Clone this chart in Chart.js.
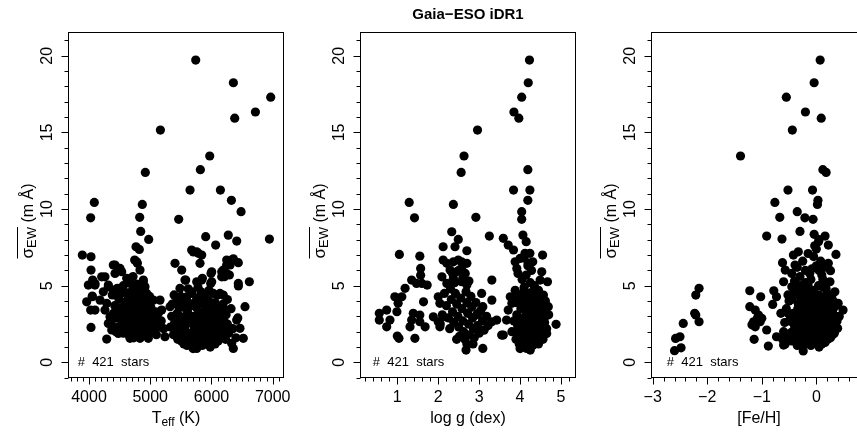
<!DOCTYPE html>
<html><head><meta charset="utf-8">
<script src="https://cdn.jsdelivr.net/npm/chart.js@4.4.1/dist/chart.umd.min.js"></script>
<style>
html,body{margin:0;padding:0;background:#fff;overflow:hidden;width:857px;height:434px;}
canvas{position:absolute;top:0;}
</style></head><body>
<canvas id="c1" width="290" height="434" style="left:0px"></canvas>
<canvas id="c2" width="290" height="434" style="left:292px"></canvas>
<canvas id="c3" width="290" height="434" style="left:583px"></canvas>
<script>
// ---------- data ----------
const yTicks = [0, 5, 10, 15, 20];
const teffTicks = [4000, 5000, 6000, 7000];
const loggTicks = [1, 2, 3, 4, 5];
const fehTicks = [-3, -2, -1, 0];
const nStars = 421;

const teffPts = [
[5743,19.72],[6358,18.24],[6968,17.3],[6718,16.33],[6380,15.93],[5166,15.15],[5972,13.46],[5819,12.57],[4920,12.39],[5650,11.24],[6146,11.24],[4087,10.43],[6326,10.57],[4871,10.3],[6484,9.83],[4027,9.43],[4828,9.46],[5465,9.33],[4844,8.54],[4975,8.02],[5906,8.2],[6275,8.3],[6413,7.91],[6947,8.04],[6069,7.65],[4768,7.54],[4822,7.37],[3891,7.0],[4033,6.89],[5677,7.33],[5705,7.2],[5759,7.21],[5786,7.11],[5841,7.0],[4746,6.67],[4779,6.56],[4790,6.46],[5813,6.46],[5405,6.46],[6249,6.67],[6330,6.67],[6358,6.76],[6439,6.5],[6248,6.35],[6304,6.35],[4397,6.35],[4425,6.35],[4479,6.13],[4507,6.13],[4033,6.02],[5514,6.02],[4833,6.02],[6193,6.02],[5852,5.48],[6004,5.91],[5993,5.8],[6168,5.91],[6167,5.58],[6211,5.59],[6248,5.8],[6293,5.7],[4616,5.48],[4425,5.8],[4534,5.91],[4207,5.58],[4261,5.58],[4060,5.37],[4098,5.15],[5568,5.37],[5580,5.37],[6619,5.26],[4887,5.26],[4888,5.37],[4915,4.93],[4899,4.93],[6439,5.15],[6440,4.98],[3989,5.04],[4098,5.04],[4316,5.04],[4316,4.93],[4463,4.83],[5988,5.15],[6004,5.26],[5759,5.26],[5841,5.37],[5486,4.83],[4670,5.37],
[4054,4.33],[3962,3.95],[4054,4.28],[4027,3.41],[4098,3.41],[4033,2.28],[4289,1.52],[4397,4.72],[4234,4.6],[4180,4.06],[4289,3.85],[4261,3.41],[4343,2.97],[4316,2.54],[4371,2.11],[4479,1.89],[4670,1.57],[4833,1.57],[4969,1.57],[5241,1.67],[4942,4.5],[5051,4.06],[5160,4.06],[5187,3.41],[5132,3.2],[5323,3.63],[5595,4.28],[5677,4.6],[5459,4.06],[6030,4.5],[6139,4.5],[6193,4.39],[6112,3.63],[6221,3.41],[6548,3.63],[6520,1.57],[6357,0.91],[6330,1.24],[6412,2.76],[6466,2.22],[6248,2.32],[5759,0.91],[5677,1.24],[5922,1.34],
[4380,4.4],[4420,3.7],[4450,2.9],[4470,2.3],[4490,4.1],[4510,3.3],[4540,2.6],[4560,1.9],[4580,4.6],[4600,3.9],[4620,3.1],[4640,2.4],[4660,4.3],[4680,3.6],[4700,2.8],[4710,2.1],[4720,4.9],[4740,4.0],[4760,3.3],[4770,2.6],[4790,1.9],[4800,4.5],[4810,3.7],[4830,3.0],[4850,2.3],[4860,4.2],[4880,3.5],[4900,2.7],[4910,2.0],[4930,3.9],[4950,3.2],[4970,2.5],[4990,4.3],[5010,3.6],[5030,2.8],[5060,2.2],[5090,3.3],[5120,2.6],[4550,3.6],[4650,1.8],[4730,1.6],[4870,1.7],[4400,3.2],[4360,2.6],[4440,2.0],[4690,4.6],[4850,4.8],[4780,5.1],[4720,5.6],[4650,5.2],[4560,5.0],
[4390,3.0],[4430,4.4],[4470,3.5],[4500,2.2],[4520,4.5],[4530,3.0],[4570,2.5],[4590,3.4],[4610,2.0],[4630,4.1],[4650,2.9],[4670,3.8],[4690,2.3],[4700,1.7],[4730,3.2],[4750,4.3],[4770,2.2],[4790,3.5],[4820,2.6],[4840,4.0],[4860,1.9],[4870,3.1],[4890,4.6],[4920,2.3],[4940,3.5],[4960,2.9],[4980,1.9],[5000,3.9],[5020,2.4],[5040,3.2],[5070,2.8],[5100,1.8],[5140,2.3],[5180,2.7],[5220,2.2],
[5420,3.9],[5440,3.2],[5460,2.5],[5480,1.9],[5500,4.3],[5520,3.6],[5540,2.9],[5560,2.2],[5580,1.6],[5600,4.0],[5610,3.3],[5630,2.6],[5650,1.9],[5660,1.3],[5680,4.5],[5690,3.7],[5710,3.0],[5720,2.3],[5740,1.6],[5750,1.1],[5760,4.2],[5770,3.5],[5790,2.8],[5800,2.1],[5810,1.4],[5830,4.6],[5840,3.9],[5850,3.2],[5860,2.5],[5870,1.8],[5880,1.2],[5900,4.3],[5910,3.6],[5920,2.9],[5930,2.2],[5940,1.5],[5960,4.0],[5970,3.3],[5980,2.6],[5990,1.9],[6000,1.3],[6020,3.7],[6030,3.0],[6040,2.3],[6050,1.6],[6080,3.4],[6090,2.7],[6100,2.0],[6110,1.4],[6140,3.1],[6150,2.4],[6160,1.7],[6190,3.8],[6200,2.8],[6210,2.1],[6230,1.5],[6260,2.5],[6280,1.9],[5350,3.0],[5330,2.3],[5380,1.8],[5450,1.5],[5550,1.2],[5700,0.9],[5620,4.8],[5780,4.9],[5960,4.7],[6100,4.4],[6260,4.1],[6320,3.5],[6350,2.2],[6400,1.6],[6430,2.9],
[5430,2.2],[5470,3.6],[5510,1.4],[5530,2.1],[5550,3.9],[5570,3.0],[5590,2.5],[5620,3.7],[5640,1.5],[5670,2.8],[5700,2.0],[5730,3.9],[5760,2.6],[5780,1.8],[5790,3.2],[5820,2.4],[5830,1.6],[5850,4.2],[5870,2.9],[5890,2.1],[5920,3.4],[5950,2.5],[5960,1.7],[5990,3.6],[6010,2.7],[6020,1.9],[6060,3.9],[6070,2.5],[6090,1.8],[6120,3.0],[6130,2.1],[6170,2.6],[6180,3.5],[6220,2.4],[6240,3.1],[5600,1.1],[5850,1.1],[5980,1.0],[6060,1.2],[5520,2.6],[5480,3.0],[5400,2.6],[5360,3.8],[5390,4.4]
];

const loggPts = [
[4.23,19.72],[4.2,18.24],[4.04,17.3],[3.85,16.33],[3.97,15.93],[2.96,15.15],[2.63,13.46],[4.19,12.57],[2.56,12.39],[3.84,11.24],[4.24,11.24],[1.29,10.43],[4.19,10.57],[2.37,10.3],[4.04,9.83],[1.42,9.43],[2.92,9.46],[4.04,9.33],[2.33,8.52],[2.49,8.02],[3.25,8.24],[4.07,8.3],[4.15,7.87],[3.59,8.09],[3.71,7.65],[2.12,7.54],[2.41,7.54],[1.05,7.04],[2.7,7.28],[1.55,6.93],[4.55,7.0],[3.84,7.33],[4.0,6.78],[3.88,6.56],[3.92,6.13],[4.12,7.11],[4.24,7.11],[4.31,6.56],[4.2,6.46],[4.53,5.91],[4.67,5.26],[4.49,5.37],
[2.12,6.67],[2.21,6.46],[2.37,6.56],[2.49,6.67],[2.57,6.56],[2.7,6.46],[2.29,6.02],[2.45,5.91],[2.57,6.13],[2.66,5.8],[2.37,5.48],[2.57,5.26],[2.7,5.04],[2.09,5.58],[2.21,5.15],[2.0,4.28],[2.04,3.85],[1.57,6.13],[1.57,5.69],[1.35,5.37],[1.47,5.15],[1.6,5.15],[1.73,5.04],[1.19,4.83],[1.11,4.28],[0.94,4.28],[1.02,3.85],[0.99,3.3],[0.74,3.41],[0.56,3.2],[0.56,2.76],[0.82,2.76],[0.74,2.32],[1.0,1.72],[1.04,1.57],[1.43,1.57],[1.39,3.2],[1.55,3.09],[1.64,3.95],[1.35,2.76],[1.31,2.32],[1.55,2.65],[1.68,2.32],[1.88,2.97],[2.0,2.65],[2.04,2.32],[2.12,2.97],
[3.31,5.37],[3.06,4.5],[3.31,4.06],[3.09,3.63],[2.98,3.2],[3.31,2.65],[3.43,2.76],[3.67,2.76],[3.55,1.78],[2.68,0.8],[3.09,0.91],[3.96,4.39],[3.76,4.28],[3.8,3.85],[3.71,3.41],[3.59,1.78],[4.65,1.89],[4.57,2.76],[4.69,3.63],[4.16,0.91],[4.88,2.48],[4.57,4.39],
[3.88,4.7],[3.90,3.9],[3.92,3.1],[3.94,2.4],[3.96,1.7],[3.98,1.2],[4.00,4.3],[4.02,3.5],[4.04,2.8],[4.06,2.0],[4.08,1.4],[4.10,4.9],[4.12,4.0],[4.14,3.3],[4.16,2.5],[4.18,1.8],[4.20,1.1],[4.22,4.5],[4.24,3.7],[4.26,3.0],[4.28,2.2],[4.30,1.5],[4.32,4.2],[4.34,3.4],[4.36,2.7],[4.38,1.9],[4.40,1.3],[4.42,3.9],[4.44,3.1],[4.46,2.4],[4.48,1.7],[4.50,3.6],[4.52,2.9],[4.54,2.1],[4.56,1.5],[4.58,3.3],[4.60,2.6],[4.62,4.0],[4.05,5.4],[4.15,5.7],[4.25,5.2],[4.35,5.0],[4.45,4.7],[4.55,4.3],[4.19,6.3],[4.28,6.0],[4.1,6.8],[3.95,5.8],[3.85,2.7],[3.8,2.0],[3.9,1.5],[4.0,0.9],[4.25,0.8],[4.45,1.2],[4.65,2.2],[4.7,3.1],[4.12,2.2],[4.22,2.7],[4.32,2.0],[4.08,3.6],[4.18,4.3],[4.38,3.6],[4.5,2.5],
[3.93,4.4],[3.97,2.0],[4.01,1.6],[4.03,3.9],[4.07,2.5],[4.09,4.6],[4.11,1.7],[4.13,3.0],[4.17,3.8],[4.21,2.0],[4.23,4.1],[4.27,1.3],[4.29,3.3],[4.31,2.6],[4.33,4.7],[4.35,1.6],[4.37,3.0],[4.41,2.2],[4.43,4.4],[4.47,3.3],[4.49,2.0],[4.53,3.8],[4.57,2.4],[4.59,1.8],[4.61,3.0],[4.21,1.5],[4.15,1.0],[4.31,1.1],[4.05,1.2],[4.39,4.1],
[2.15,4.5],[2.2,3.7],[2.25,2.9],[2.3,4.8],[2.32,4.1],[2.35,3.3],[2.38,2.6],[2.4,5.2],[2.42,4.5],[2.45,3.8],[2.48,3.0],[2.5,2.3],[2.52,1.7],[2.55,4.2],[2.58,3.5],[2.6,2.7],[2.62,2.0],[2.65,1.5],[2.68,4.6],[2.7,3.9],[2.72,3.2],[2.74,2.5],[2.76,1.8],[2.8,4.3],[2.82,3.6],[2.84,2.9],[2.86,2.2],[2.88,1.6],[2.92,3.9],[2.94,3.1],[2.96,2.4],[3.0,1.9],[3.04,3.4],[3.08,2.7],[3.12,2.1],[3.18,3.0],[3.22,2.4],[2.1,3.1],[2.05,2.5],[2.28,2.2],[2.45,1.5],[2.6,5.5],[2.5,6.0],[2.35,5.8],[2.75,5.3],[2.85,1.2],[2.7,1.2]
];

const fehPts = [
[0.07,19.72],[-0.04,18.24],[-0.55,17.3],[-0.2,16.33],[0.09,15.93],[-0.44,15.15],[-1.39,13.46],[0.12,12.57],[0.18,12.39],[-0.52,11.24],[-0.07,11.24],[-0.76,10.43],[0.03,10.57],[0.02,10.3],[-0.35,9.83],[-0.67,9.46],[-0.21,9.43],[-0.06,9.33],[-0.30,8.54],[-0.91,8.24],[-0.63,8.04],[-0.04,8.35],[0.16,8.24],[0.04,7.87],[0.22,7.65],[0.36,7.04],[-0.33,7.21],[-0.42,7.0],[-0.62,6.5],[-0.57,6.02],[-0.39,6.35],[-0.60,5.26],[-0.45,4.93],[-1.22,4.67],[-1.02,4.28],[-0.78,4.67],[-0.73,4.28],[-0.80,3.78],[-1.22,3.63],[-1.12,3.41],[-1.06,3.09],[-1.0,2.87],[-1.15,2.65],[-1.12,2.32],[-1.03,2.65],[-0.91,2.11],[-1.14,1.5],[-0.88,1.06],[-0.73,1.67],[-0.60,1.13],[-0.24,0.74],[0.39,2.22],[0.49,3.41],[0.40,3.85],[0.34,4.6],[0.25,5.26],[0.26,5.98],[0.22,6.46],[-1.18,2.45],[-1.08,2.9],[-0.03,7.6],[0.05,8.0],
[-2.15,4.83],[-2.21,4.39],[-2.21,3.09],[-2.23,3.2],[-2.15,2.65],[-2.44,2.54],[-2.50,1.67],[-2.58,1.56],[-2.48,0.95],[-2.60,0.76],
[-0.55,3.5],[-0.5,2.7],[-0.48,1.9],[-0.45,4.1],[-0.42,3.2],[-0.4,2.4],[-0.38,1.6],[-0.35,4.6],[-0.33,3.8],[-0.3,2.9],[-0.28,2.1],[-0.26,1.3],[-0.24,4.3],[-0.22,3.5],[-0.2,2.6],[-0.18,1.8],[-0.15,5.0],[-0.13,4.0],[-0.11,3.2],[-0.09,2.3],[-0.07,1.5],[-0.05,4.7],[-0.03,3.8],[-0.01,2.9],[0.01,2.0],[0.03,1.3],[0.05,4.4],[0.07,3.5],[0.09,2.6],[0.11,1.7],[0.13,4.9],[0.15,4.1],[0.17,3.2],[0.19,2.3],[0.21,1.5],[0.23,3.8],[0.25,2.9],[0.27,2.0],[0.3,3.4],[0.32,2.5],[0.35,3.0],[0.28,4.3],[-0.6,2.0],[-0.62,1.5],[-0.57,1.2],[-0.4,5.3],[-0.3,5.6],[-0.2,6.0],[-0.1,5.4],[0.0,6.3],[0.1,5.7],[0.2,5.2],[-0.25,6.6],[-0.05,6.9],[0.08,6.6],[-0.35,6.2],[-0.15,7.1],[-0.45,5.8],[0.15,6.2],[0.0,7.4],[-0.1,1.1],[0.1,1.2],[-0.35,1.1],[-0.65,3.2],[-0.52,4.4],[0.3,1.8],
[-0.53,1.6],[-0.5,4.0],[-0.47,3.0],[-0.44,2.0],[-0.41,4.5],[-0.37,2.8],[-0.34,3.5],[-0.32,1.9],[-0.29,4.2],[-0.27,2.5],[-0.23,1.6],[-0.21,3.0],[-0.19,4.5],[-0.16,2.2],[-0.14,3.5],[-0.12,1.3],[-0.1,4.3],[-0.08,2.7],[-0.06,3.6],[-0.04,1.9],[-0.02,4.2],[0.0,3.3],[0.02,2.4],[0.04,5.0],[0.06,1.7],[0.08,3.0],[0.1,4.0],[0.12,2.2],[0.14,3.6],[0.16,1.3],[0.18,2.7],[0.2,4.5],[0.22,2.0],[0.24,3.3],[0.26,1.6],[0.29,2.6],[0.31,4.0],[0.33,1.9],[0.36,3.7],[0.38,2.7],[-0.12,5.8],[0.05,6.0],[-0.2,5.2],[0.12,5.4],[-0.28,4.8],
[-0.58,2.6],[-0.52,3.2],[-0.43,2.6],[-0.36,2.2],[-0.31,3.2],[-0.25,3.9],[-0.17,2.9],[-0.13,2.0],[-0.05,3.1],[0.03,3.6],[0.09,2.0],[0.14,2.6],[0.19,3.7],[0.27,3.5],[0.34,2.3],[0.42,3.0],[0.05,1.0],[-0.2,1.2],[-0.45,1.4],[-0.08,6.1],[-0.3,5.0],[0.18,4.8]
];

// ---------- drawing ----------
const FONT = '"Liberation Sans", Arial, Helvetica, sans-serif';
Chart.defaults.font.family = FONT;
Chart.defaults.color = '#000';
const minus = v => (v < 0 ? '\u2212' + Math.abs(v) : String(v));

function measureRun(ctx, parts) {
  let w = 0;
  parts.forEach(p => { ctx.font = p.size + 'px ' + FONT; p.w = ctx.measureText(p.t).width; w += p.w; });
  return w;
}

function decoPlugin(cfg) {
  return {
    id: 'rdeco',
    afterDraw(chart) {
      const ctx = chart.ctx, a = chart.chartArea, xs = chart.scales.x, ys = chart.scales.y;
      ctx.save();
      ctx.strokeStyle = '#000'; ctx.fillStyle = '#000'; ctx.lineWidth = 1;
      const L = Math.round(a.left) + 0.5, R = Math.round(a.right) - 0.5, T = Math.round(a.top) + 0.5, B = Math.round(a.bottom) - 0.5;
      ctx.strokeRect(L, T, R - L, B - T);
      ctx.beginPath();
      for (let v = cfg.xMinor[0]; v <= cfg.xMinor[1] + 1e-9; v += cfg.xMinor[2]) {
        const p = Math.round(xs.getPixelForValue(v)) + 0.5;
        ctx.moveTo(p, B); ctx.lineTo(p, B + 4);
      }
      xs.ticks.forEach(t => { const p = Math.round(xs.getPixelForValue(t.value)) + 0.5; ctx.moveTo(p, B); ctx.lineTo(p, B + 7); });
      for (let v = -1; v <= 21; v += 1) {
        const p = Math.round(ys.getPixelForValue(v)) + 0.5;
        ctx.moveTo(L, p); ctx.lineTo(L - 4, p);
      }
      ys.ticks.forEach(t => { const p = Math.round(ys.getPixelForValue(t.value)) + 0.5; ctx.moveTo(L, p); ctx.lineTo(L - 7, p); });
      ctx.stroke();

      // note
      ctx.font = '13px ' + FONT; ctx.textBaseline = 'middle'; ctx.textAlign = 'left';
      ctx.fillText('#  ' + nStars + '  stars', xs.getPixelForValue(cfg.noteX), ys.getPixelForValue(0));

      // x title
      ctx.textBaseline = 'alphabetic';
      const xw = measureRun(ctx, cfg.xTitle);
      let cx = (a.left + a.right) / 2 - xw / 2;
      cfg.xTitle.forEach(p => { ctx.font = p.size + 'px ' + FONT; ctx.fillText(p.t, cx, 423 + (p.dy || 0)); cx += p.w; });

      // y title (rotated)
      const yParts = [{t: '\u03C3', size: 17}, {t: 'EW', size: 13, dy: 3}, {t: ' (m \u00C5)', size: 16}];
      const yw = measureRun(ctx, yParts);
      ctx.translate(a.left - 35, a.top + 189);
      ctx.rotate(-Math.PI / 2);
      let sx = -yw / 2;
      const ol0 = sx;
      yParts.forEach(p => { ctx.font = p.size + 'px ' + FONT; ctx.fillText(p.t, sx, (p.dy || 0)); sx += p.w; });
      const ol1 = ol0 + yParts[0].w + yParts[1].w;
      ctx.beginPath(); ctx.moveTo(ol0, -15.5); ctx.lineTo(ol1, -15.5); ctx.stroke();
      ctx.restore();
    }
  };
}

function makeChart(id, pts, xmin, xmax, xTicks, cfg, title) {
  const scales = {
    x: {type: 'linear', position: 'bottom', min: xmin, max: xmax,
      afterBuildTicks: s => { s.ticks = xTicks.map(v => ({value: v})); },
      afterFit: s => { s.height = 56; s.paddingLeft = 0; s.paddingRight = 0; },
      grid: {display: false, drawTicks: false}, border: {display: false},
      ticks: {autoSkip: false, padding: 10, color: '#000', font: {size: 16}, minRotation: 0, maxRotation: 0, callback: v => minus(v)}},
    y: {type: 'linear', position: 'left', min: -1.02, max: 21.55,
      afterBuildTicks: s => { s.ticks = yTicks.map(v => ({value: v})); },
      afterFit: s => { s.width = 68; s.paddingTop = 0; s.paddingBottom = 0; },
      grid: {display: false, drawTicks: false}, border: {display: false},
      ticks: {autoSkip: false, padding: 12, color: '#000', font: {size: 16}, minRotation: 90, maxRotation: 90, crossAlign: 'center', callback: v => String(v)}}
  };
  return new Chart(document.getElementById(id), {
    type: 'scatter',
    data: {datasets: [{data: pts.map(p => ({x: p[0], y: p[1]})), pointRadius: 4.6, pointHoverRadius: 4.6, backgroundColor: '#000', borderWidth: 0}]},
    options: {
      responsive: false, animation: false, events: [],
      layout: {padding: {left: 0, right: 6, top: title ? 0 : 32, bottom: 0}},
      plugins: {
        legend: {display: false}, tooltip: {enabled: false},
        title: title ? {display: true, text: title, fullSize: false, color: '#000', font: {size: 15, weight: 'bold'}, padding: {top: 6, bottom: 8}} : {display: false}
      },
      scales
    },
    plugins: [decoPlugin(cfg)]
  });
}

makeChart('c1', teffPts, 3657, 7185, teffTicks,
  {xMinor: [3700, 7100, 100], noteX: 3815, xTitle: [{t: 'T', size: 16}, {t: 'eff', size: 12, dy: 3}, {t: ' (K)', size: 16}]});
makeChart('c2', loggPts, 0.088, 5.367, loggTicks,
  {xMinor: [0.2, 5.2, 0.2], noteX: 0.4, xTitle: [{t: 'log g (dex)', size: 16}]}, 'Gaia\u2212ESO iDR1');
makeChart('c3', fehPts, -3.031, 0.929, fehTicks,
  {xMinor: [-3, 0.8, 0.2], noteX: -2.74, xTitle: [{t: '[Fe/H]', size: 16}]});
</script>
</body></html>
